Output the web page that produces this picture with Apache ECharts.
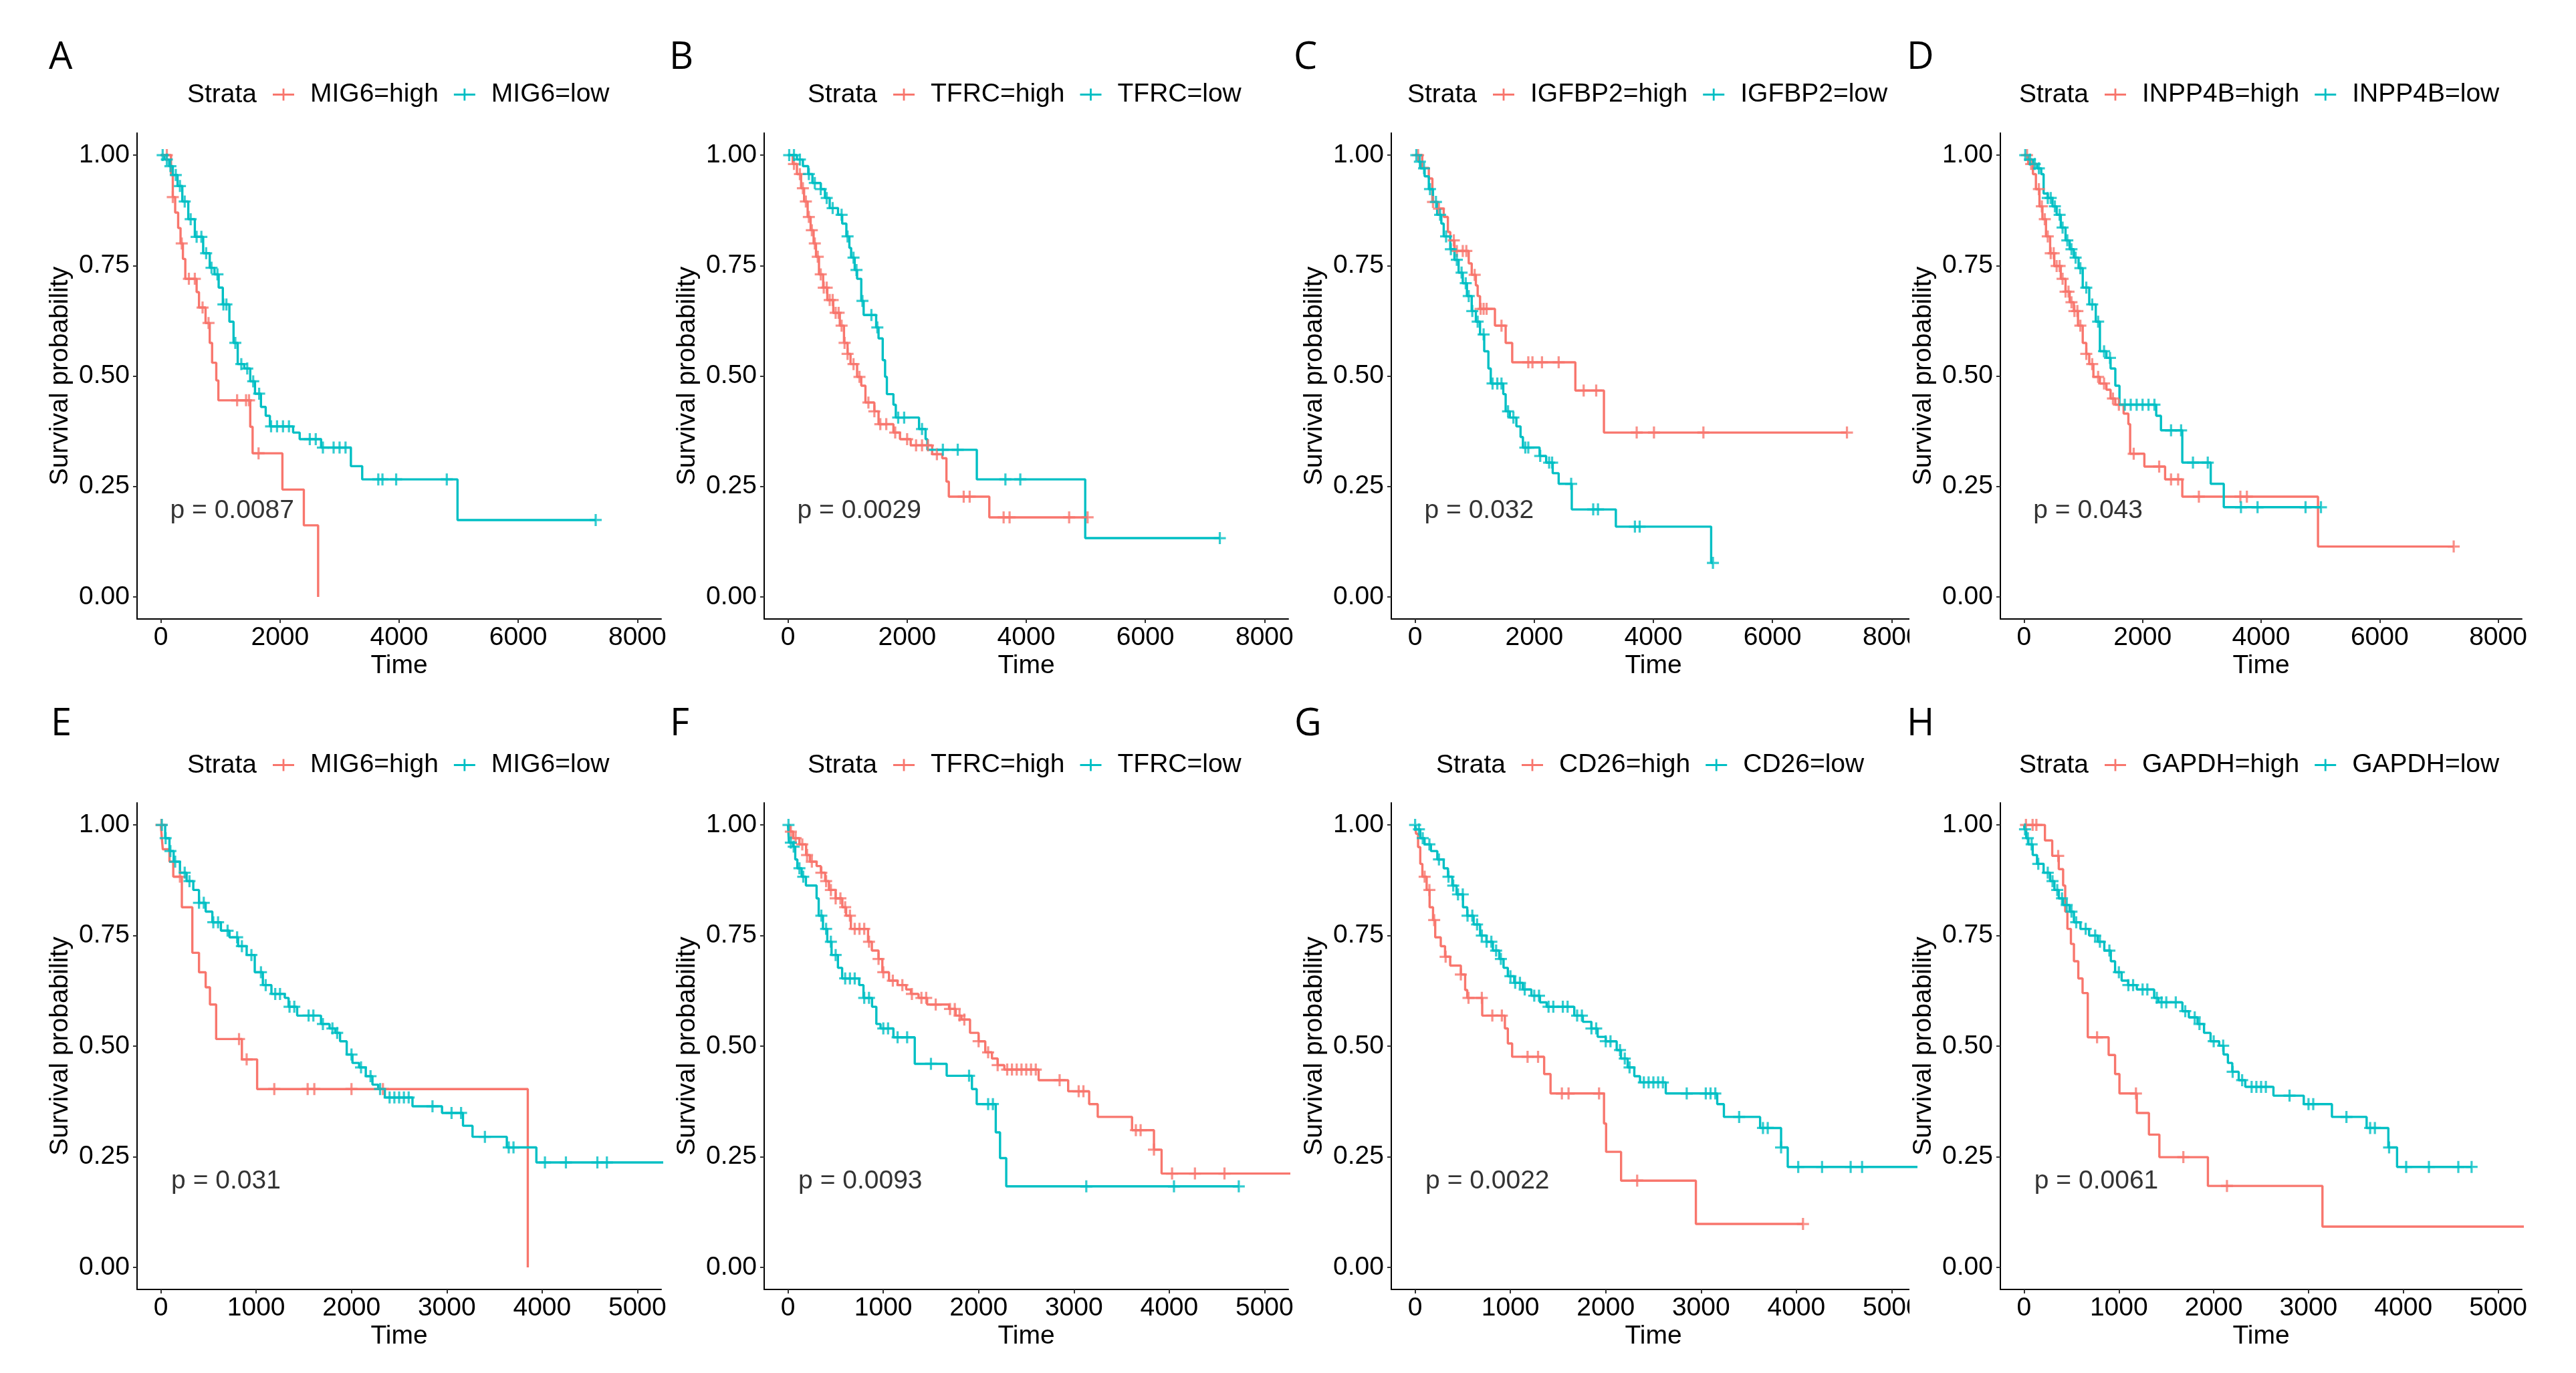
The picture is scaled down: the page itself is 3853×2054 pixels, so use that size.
<!DOCTYPE html>
<html>
<head>
<meta charset="UTF-8">
<title>Survival curves</title>
<script src="https://cdn.jsdelivr.net/npm/echarts@6/dist/echarts.min.js"></script>
<style>
  html, body { margin: 0; padding: 0; background: #fff; }
  #chart { width: 3853px; height: 2054px; }
</style>
</head>
<body>
<div id="chart"></div>
<script>
// ---- data: each curve is [time, survival after the drop]; censor lists are times ----
var A_high = [[0,1],[170,0.955],[200,0.905],[240,0.87],[290,0.835],[330,0.8],[370,0.765],[410,0.72],[600,0.69],[640,0.655],[750,0.62],[820,0.575],[860,0.53],[930,0.49],[965,0.445],[1500,0.385],[1540,0.325],[2040,0.243],[2400,0.162],[2640,0]];
var A_high_c = [100,200,350,470,570,700,800,1280,1430,1480,1640];
var A_low = [[0,1],[60,0.99],[140,0.975],[200,0.955],[280,0.93],[360,0.895],[460,0.855],[570,0.815],[710,0.778],[820,0.745],[900,0.73],[970,0.7],[1040,0.662],[1150,0.623],[1220,0.575],[1290,0.527],[1400,0.517],[1500,0.488],[1580,0.46],[1680,0.43],[1760,0.41],[1830,0.386],[2220,0.372],[2330,0.357],[2690,0.338],[3190,0.296],[3380,0.266],[4980,0.174],[7300,0.174]];
var A_low_c = [30,100,160,250,320,400,500,600,680,760,850,950,1050,1100,1250,1350,1450,1550,1650,1850,1950,2050,2150,2500,2600,2720,2900,3000,3100,3650,3720,3950,4800,7300];

var B_high = [[0,1],[80,0.98],[150,0.957],[220,0.925],[270,0.895],[330,0.86],[380,0.83],[430,0.8],[470,0.77],[520,0.73],[590,0.7],[660,0.672],[760,0.643],[870,0.614],[940,0.575],[1000,0.55],[1050,0.527],[1160,0.498],[1230,0.478],[1300,0.44],[1450,0.42],[1520,0.391],[1770,0.372],[1880,0.357],[2060,0.343],[2420,0.323],[2590,0.314],[2660,0.261],[2700,0.227],[3380,0.18],[5030,0.18]];
var B_high_c = [100,200,250,300,350,400,450,500,550,600,650,700,750,800,850,900,950,1000,1100,1200,1350,1450,1550,1650,1800,2000,2150,2250,2350,2500,2950,3050,3620,3720,4720,5030];
var B_low = [[0,1],[150,0.99],[250,0.975],[340,0.957],[410,0.937],[550,0.923],[620,0.903],[700,0.88],[840,0.865],[910,0.845],[980,0.816],[1030,0.79],[1060,0.768],[1120,0.74],[1160,0.72],[1230,0.67],[1270,0.638],[1480,0.61],[1520,0.585],[1590,0.536],[1630,0.498],[1660,0.459],[1770,0.435],[1810,0.406],[2200,0.38],[2310,0.357],[2340,0.333],[3170,0.266],[4990,0.133],[7250,0.133]];
var B_low_c = [20,100,200,350,450,550,650,750,900,1000,1100,1150,1250,1400,1500,1850,1950,2250,2600,2850,3650,3900,7250];

var C_high = [[0,1],[120,0.971],[230,0.947],[290,0.894],[370,0.879],[480,0.86],[550,0.826],[590,0.807],[660,0.783],[900,0.755],[950,0.729],[1020,0.705],[1050,0.681],[1090,0.652],[1340,0.614],[1520,0.575],[1630,0.531],[2690,0.467],[3170,0.372],[7250,0.372]];
var C_high_c = [50,300,400,650,700,800,860,1000,1100,1150,1200,1450,1900,1970,2130,2410,2830,3040,3720,4010,4840,7250];
var C_low = [[0,1],[60,0.985],[90,0.97],[160,0.952],[230,0.923],[300,0.894],[370,0.865],[440,0.845],[480,0.816],[590,0.787],[660,0.763],[730,0.734],[800,0.71],[870,0.681],[950,0.647],[1020,0.623],[1090,0.594],[1160,0.556],[1230,0.517],[1270,0.483],[1480,0.459],[1520,0.42],[1590,0.406],[1700,0.386],[1770,0.362],[1810,0.338],[2090,0.319],[2200,0.304],[2310,0.28],[2410,0.256],[2630,0.198],[3370,0.159],[4970,0.077],[5000,0.077]];
var C_low_c = [20,80,150,250,350,420,520,600,700,780,850,900,960,1050,1150,1300,1380,1450,1560,1650,1850,1900,2100,2250,2300,2620,2990,3070,3690,3770,5000];

var D_high = [[0,1],[70,0.98],[150,0.957],[200,0.923],[260,0.884],[310,0.855],[370,0.816],[440,0.778],[510,0.749],[620,0.72],[700,0.691],[770,0.667],[840,0.647],[910,0.614],[990,0.575],[1050,0.55],[1100,0.527],[1170,0.498],[1280,0.483],[1390,0.469],[1460,0.449],[1540,0.435],[1680,0.415],[1760,0.391],[1790,0.324],[2030,0.295],[2380,0.266],[2670,0.227],[4960,0.114],[7250,0.114]];
var D_high_c = [50,120,250,300,350,400,450,500,550,600,650,700,750,800,850,900,950,1050,1150,1250,1350,1500,1600,1850,2280,2480,2600,2950,3650,3760,7250];
var D_low = [[0,1],[60,0.99],[150,0.98],[220,0.97],[290,0.957],[330,0.913],[400,0.903],[480,0.884],[550,0.865],[620,0.836],[700,0.807],[770,0.787],[840,0.768],[920,0.744],[990,0.7],[1100,0.662],[1210,0.623],[1280,0.556],[1390,0.541],[1460,0.517],[1540,0.478],[1610,0.435],[2230,0.41],[2310,0.377],[2670,0.304],[3150,0.256],[3370,0.203],[5010,0.203]];
var D_low_c = [20,100,180,250,400,450,520,600,650,730,800,870,950,1050,1150,1250,1350,1450,1700,1800,1900,2000,2100,2200,2480,2650,2850,3100,3660,3940,4750,5010];

var E_high = [[0,1],[10,0.97],[20,0.945],[90,0.917],[130,0.883],[220,0.814],[330,0.711],[400,0.667],[470,0.633],[515,0.594],[580,0.516],[850,0.47],[1010,0.403],[3850,0]];
var E_high_c = [5,200,820,900,1190,1540,1610,2000,2330];
var E_low = [[0,1],[45,0.97],[90,0.941],[134,0.917],[200,0.892],[270,0.873],[340,0.853],[400,0.824],[470,0.804],[540,0.78],[630,0.761],[720,0.746],[810,0.726],[900,0.706],[985,0.667],[1070,0.638],[1160,0.618],[1300,0.609],[1340,0.589],[1430,0.569],[1680,0.55],[1770,0.54],[1830,0.53],[1880,0.511],[1950,0.481],[2010,0.462],[2080,0.452],[2150,0.432],[2220,0.413],[2280,0.403],[2350,0.384],[2640,0.364],[2950,0.349],[3170,0.32],[3270,0.295],[3630,0.271],[3940,0.237],[5400,0.237]];
var E_low_c = [10,50,100,150,250,300,400,450,550,600,700,800,850,950,1050,1100,1200,1250,1350,1400,1550,1600,1700,1800,1850,2000,2100,2200,2300,2400,2450,2500,2550,2600,2850,3050,3150,3400,3650,3700,4030,4250,4580,4680];

var F_high = [[0,1],[20,0.985],[54,0.97],[120,0.956],[190,0.932],[230,0.917],[300,0.907],[345,0.892],[390,0.873],[430,0.853],[500,0.834],[570,0.814],[610,0.795],[660,0.765],[840,0.736],[880,0.716],[950,0.697],[990,0.667],[1060,0.648],[1150,0.638],[1240,0.628],[1290,0.618],[1370,0.609],[1460,0.594],[1690,0.584],[1760,0.569],[1820,0.56],[1910,0.53],[2000,0.511],[2070,0.486],[2140,0.472],[2200,0.457],[2270,0.447],[2630,0.423],[2940,0.398],[3160,0.369],[3250,0.34],[3610,0.31],[3840,0.266],[3920,0.212],[5400,0.212]];
var F_high_c = [30,80,150,200,250,350,400,450,500,550,600,650,700,750,800,850,950,1000,1100,1200,1300,1400,1450,1550,1700,1750,1800,1850,2000,2100,2200,2300,2350,2400,2450,2500,2550,2600,2850,3050,3100,3650,3700,3840,4030,4270,4580];
var F_low = [[0,1],[10,0.96],[54,0.951],[76,0.922],[98,0.902],[143,0.883],[188,0.863],[300,0.834],[322,0.795],[367,0.765],[412,0.736],[457,0.706],[524,0.677],[568,0.653],[747,0.638],[792,0.609],[882,0.589],[927,0.55],[971,0.54],[1106,0.52],[1330,0.46],[1665,0.433],[1930,0.403],[1980,0.369],[2180,0.305],[2225,0.247],[2290,0.183],[4730,0.183]];
var F_low_c = [5,30,60,120,160,350,400,450,500,600,650,700,800,850,1000,1050,1150,1250,1500,1900,2100,2150,3130,4050,4730];

var G_high = [[0,1],[10,0.98],[31,0.95],[54,0.912],[76,0.883],[121,0.853],[152,0.814],[188,0.785],[211,0.746],[269,0.726],[314,0.702],[368,0.682],[480,0.662],[525,0.627],[547,0.609],[704,0.569],[942,0.54],[973,0.506],[1018,0.476],[1354,0.437],[1421,0.393],[1982,0.325],[2004,0.261],[2161,0.196],[2946,0.098],[4070,0.098]];
var G_high_c = [100,150,200,320,480,560,700,810,910,1180,1290,1540,1610,1930,2330,4070];
var G_low = [[0,1],[10,0.99],[54,0.97],[99,0.956],[166,0.941],[233,0.922],[300,0.902],[345,0.883],[390,0.863],[435,0.843],[502,0.814],[547,0.795],[614,0.775],[682,0.75],[749,0.736],[816,0.716],[883,0.697],[928,0.677],[973,0.658],[1040,0.643],[1130,0.628],[1220,0.614],[1310,0.599],[1380,0.589],[1670,0.569],[1760,0.555],[1850,0.54],[1915,0.521],[2000,0.511],[2115,0.491],[2160,0.472],[2230,0.452],[2300,0.432],[2360,0.418],[2630,0.393],[3170,0.369],[3240,0.34],[3620,0.315],[3840,0.271],[3910,0.227],[5400,0.227]];
var G_low_c = [0,40,80,150,250,350,400,450,500,550,600,650,700,750,800,850,900,1000,1050,1100,1150,1250,1300,1400,1450,1550,1600,1700,1750,1850,1900,2000,2050,2150,2200,2250,2400,2450,2500,2550,2600,2850,3050,3100,3150,3400,3650,3700,3840,4020,4270,4570,4690];

var H_high = [[0,1],[220,0.965],[297,0.93],[366,0.9],[412,0.863],[434,0.804],[457,0.765],[494,0.731],[526,0.692],[572,0.653],[617,0.62],[672,0.52],[892,0.48],[960,0.437],[1006,0.393],[1189,0.349],[1317,0.3],[1427,0.249],[1939,0.184],[3147,0.092],[5400,0.092]];
var H_high_c = [20,90,130,360,770,1180,1680,2140];
var H_low = [[0,1],[5,0.99],[23,0.97],[46,0.956],[91,0.932],[137,0.912],[206,0.892],[274,0.873],[320,0.853],[366,0.834],[412,0.819],[480,0.804],[526,0.78],[595,0.765],[686,0.75],[778,0.736],[846,0.716],[915,0.692],[960,0.667],[1029,0.648],[1098,0.638],[1189,0.628],[1372,0.609],[1418,0.599],[1670,0.579],[1738,0.565],[1830,0.55],[1898,0.53],[1967,0.511],[2058,0.501],[2104,0.481],[2150,0.462],[2196,0.442],[2264,0.423],[2333,0.408],[2630,0.388],[2950,0.369],[3247,0.34],[3613,0.315],[3842,0.271],[3934,0.227],[4720,0.227]];
var H_low_c = [10,40,80,150,250,300,350,400,450,500,550,650,750,800,900,1000,1100,1150,1250,1300,1400,1450,1500,1600,1700,1800,1850,2000,2100,2200,2300,2400,2450,2500,2550,2800,3000,3050,3400,3650,3700,3850,4030,4270,4580,4720];

var letters = ['A','B','C','D','E','F','G','H'];
var genes = ['MIG6','TFRC','IGFBP2','INPP4B','MIG6','TFRC','CD26','GAPDH'];
var pvalues = ['p = 0.0087','p = 0.0029','p = 0.032','p = 0.043','p = 0.031','p = 0.0093','p = 0.0022','p = 0.0061'];
var highCurves = [A_high, B_high, C_high, D_high, E_high, F_high, G_high, H_high];
var lowCurves = [A_low, B_low, C_low, D_low, E_low, F_low, G_low, H_low];
var highCens = [A_high_c, B_high_c, C_high_c, D_high_c, E_high_c, F_high_c, G_high_c, H_high_c];
var lowCens = [A_low_c, B_low_c, C_low_c, D_low_c, E_low_c, F_low_c, G_low_c, H_low_c];
var timeTicksTop = [0, 2000, 4000, 6000, 8000];
var timeTicksBottom = [0, 1000, 2000, 3000, 4000, 5000];
var survTicks = [0, 0.25, 0.5, 0.75, 1];

// ---- layout (pixels) ----
var RED = '#F8766D', CYAN = '#00BFC4';
var FONT = '"Liberation Sans", Arial, sans-serif';
var gridLeft = [205, 1143, 2081, 2992, 205, 1143, 2081, 2992];
var gridWidth = [784, 784, 784, 780, 784, 784, 784, 780];
var rowTop = [199, 1201], rowHeight = [727, 728];
var letterX = [73, 1001, 1935, 2852, 76, 1002, 1936, 2852];
var letterY = [87, 1084];
var strataX = [280, 1208, 2105, 3020, 280, 1208, 2148, 3020];
var legendY = [142, 1145];

var PLUS = 'path://M0,4.1 H10 V5.9 H0 Z M4.1,0 H5.9 V10 H4.1 Z';
var LEG_ICON = 'path://M0,7.6 H32 V10.4 H0 Z M14.6,0 H17.4 V18 H14.6 Z';

function survAt(curve, t) {
  var s = 1;
  for (var i = 0; i < curve.length; i++) {
    if (curve[i][0] <= t) s = curve[i][1]; else break;
  }
  return s;
}

var chart = echarts.init(document.getElementById('chart'), null, { renderer: 'canvas' });

var grids = [], xAxes = [], yAxes = [], series = [], legends = [], graphics = [];

for (var i = 0; i < 8; i++) {
  var row = i < 4 ? 0 : 1;
  var ticks = row === 0 ? timeTicksTop : timeTicksBottom;
  var xr = row === 0 ? [-400, 8400] : [-250, 5250];

  grids.push({ left: gridLeft[i], top: rowTop[row], width: gridWidth[i], height: rowHeight[row], containLabel: false });

  xAxes.push({
    gridIndex: i, type: 'value', min: xr[0], max: xr[1],
    name: 'Time', nameLocation: 'middle', nameGap: 51,
    nameTextStyle: { fontSize: 39, color: '#000', fontFamily: FONT },
    axisLine: { onZero: false, lineStyle: { color: '#000', width: 2 } },
    axisTick: { show: true, length: 6, customValues: ticks, lineStyle: { color: '#333', width: 2 } },
    axisLabel: {
      customValues: ticks, fontSize: 39, color: '#000', margin: 9, fontFamily: FONT,
      formatter: function (v) { return String(v); }
    },
    splitLine: { show: false }
  });

  yAxes.push({
    gridIndex: i, type: 'value', min: -0.05, max: 1.05,
    name: 'Survival probability', nameLocation: 'middle', nameGap: 95,
    nameTextStyle: { fontSize: 39, color: '#000', fontFamily: FONT },
    axisLine: { onZero: false, lineStyle: { color: '#000', width: 2 } },
    axisTick: { show: true, length: 6, customValues: survTicks, lineStyle: { color: '#333', width: 2 } },
    axisLabel: {
      customValues: survTicks, fontSize: 39, color: '#000', margin: 11, fontFamily: FONT,
      formatter: function (v) { return v.toFixed(2); }
    },
    splitLine: { show: false }
  });

  var groups = [
    { name: genes[i] + '=high', curve: highCurves[i], cens: highCens[i], color: RED },
    { name: genes[i] + '=low', curve: lowCurves[i], cens: lowCens[i], color: CYAN }
  ];
  groups.forEach(function (g) {
    series.push({
      type: 'line', name: g.name, xAxisIndex: i, yAxisIndex: i,
      data: g.curve, step: 'end', symbol: 'none', showSymbol: false,
      lineStyle: { color: g.color, width: 3.4 }, itemStyle: { color: g.color },
      clip: true, silent: true, animation: false, z: 2
    });
    series.push({
      type: 'scatter', name: g.name + ' censored', xAxisIndex: i, yAxisIndex: i,
      data: g.cens.map(function (t) { return [t, survAt(g.curve, t)]; }),
      symbol: PLUS, symbolSize: 18, itemStyle: { color: g.color },
      clip: true, silent: true, animation: false, z: 3
    });
  });

  // p-value text anchored in data space
  series.push({
    type: 'scatter', name: 'pval' + i, xAxisIndex: i, yAxisIndex: i,
    data: [[row === 0 ? 150 : 105, 0.195]],
    symbolSize: 1, itemStyle: { color: 'rgba(0,0,0,0)' },
    label: { show: true, position: 'right', distance: 0, formatter: pvalues[i], fontSize: 39, color: '#000', fontFamily: FONT },
    silent: true, animation: false
  });

  legends.push({
    left: strataX[i] + 128, top: legendY[row] - 20, padding: 0,
    orient: 'horizontal', itemWidth: 32, itemHeight: 18, itemGap: 23,
    icon: LEG_ICON, selectedMode: false,
    data: [genes[i] + '=high', genes[i] + '=low'],
    textStyle: { fontSize: 39, color: '#000', fontFamily: FONT, padding: [0, 0, 0, 19] }
  });

  graphics.push({
    type: 'text', z: 10,
    style: { x: letterX[i], y: letterY[row], text: letters[i], font: '56px "Open Sans", "Noto Sans", sans-serif', fill: '#000', textAlign: 'left', textVerticalAlign: 'middle' }
  });
  graphics.push({
    type: 'text', z: 10,
    style: { x: strataX[i], y: legendY[row], text: 'Strata', font: '39px ' + FONT, fill: '#000', textAlign: 'left', textVerticalAlign: 'middle' }
  });
}

// the third column is cut at its right edge in the source figure
graphics.push({ type: 'rect', z: 100, shape: { x: 2856, y: 918, width: 40, height: 92 }, style: { fill: '#fff' } });
graphics.push({ type: 'rect', z: 100, shape: { x: 2856, y: 1921, width: 40, height: 92 }, style: { fill: '#fff' } });

chart.setOption({
  backgroundColor: '#fff',
  animation: false,
  grid: grids,
  xAxis: xAxes,
  yAxis: yAxes,
  legend: legends,
  series: series,
  graphic: graphics
});
</script>
</body>
</html>
